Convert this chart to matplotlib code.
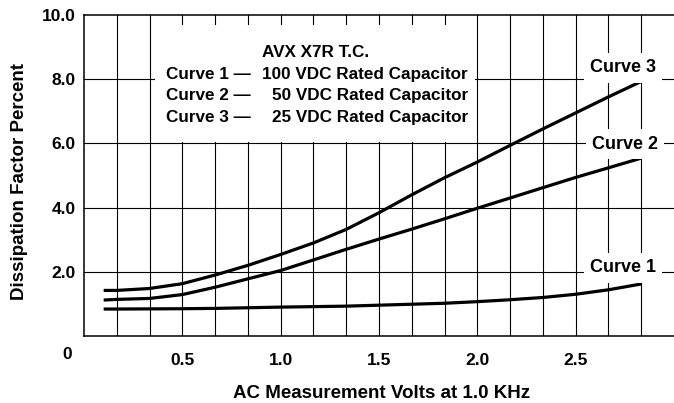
import matplotlib
matplotlib.use("Agg")
import matplotlib.pyplot as plt
from matplotlib.patches import Rectangle
import matplotlib.transforms as mtransforms

plt.rcParams['font.family'] = ['Liberation Sans', 'DejaVu Sans']
plt.rcParams['font.weight'] = 'bold'

# AC measurement voltage (V) at 1.0 kHz
volts = [0.1, 0.167, 0.333, 0.5, 0.667, 0.833, 1.0, 1.167, 1.333, 1.5,
         1.667, 1.833, 2.0, 2.167, 2.333, 2.5, 2.667, 2.833]

# Dissipation factor (%) for each rated voltage
curve1_100vdc = [0.84, 0.84, 0.845, 0.85, 0.86, 0.88, 0.90, 0.915, 0.93, 0.96,
                 0.99, 1.02, 1.07, 1.13, 1.20, 1.30, 1.44, 1.62]
curve2_50vdc = [1.12, 1.14, 1.17, 1.29, 1.52, 1.78, 2.04, 2.37, 2.70, 3.02,
                3.33, 3.65, 3.98, 4.30, 4.62, 4.94, 5.24, 5.54]
curve3_25vdc = [1.42, 1.42, 1.48, 1.63, 1.90, 2.20, 2.54, 2.90, 3.32, 3.84,
                4.40, 4.93, 5.42, 5.94, 6.45, 6.95, 7.45, 7.93]

x_ticks = [0.5, 1.0, 1.5, 2.0, 2.5]
x_tick_labels = ['0.5', '1.0', '1.5', '2.0', '2.5']
y_ticks = [2.0, 4.0, 6.0, 8.0, 10.0]
y_tick_labels = ['2.0', '4.0', '6.0', '8.0', '10.0']
x_grid = [k / 6 for k in range(1, 18)]

W, H = 674, 403
fig = plt.figure(figsize=(W / 100, H / 100), dpi=100)
ax = fig.add_axes([84 / W, (H - 336) / H, (W - 84) / W, (336 - 15) / H])
ax.set_xlim(0, 3.0)
ax.set_ylim(0, 10)

# grid: vertical every 1/6 V, horizontal every 2 %
for xv in x_grid:
    ax.axvline(xv, color='black', lw=0.8, zorder=0.5)
for yv in [2, 4, 6, 8]:
    ax.axhline(yv, color='black', lw=0.8, zorder=0.5)

for side in ['left', 'bottom', 'top']:
    ax.spines[side].set_linewidth(1.1)
ax.spines['right'].set_visible(False)

ax.set_xticks(x_ticks)
ax.set_xticklabels(x_tick_labels)
ax.set_yticks(y_ticks)
ax.set_yticklabels(y_tick_labels)
ax.tick_params(axis='both', length=0, labelsize=12.5)
ax.tick_params(axis='x', pad=12)
ax.tick_params(axis='y', pad=6)

# shared origin label
trans = mtransforms.blended_transform_factory(ax.transData, ax.transAxes)
ax.text(-0.085, -0.059, '0', transform=trans, ha='center', va='center',
        fontsize=12.5, fontweight='bold', clip_on=False)

for ys in (curve1_100vdc, curve2_50vdc, curve3_25vdc):
    ax.plot(volts, ys, color='black', lw=2.3, solid_capstyle='butt',
            solid_joinstyle='round', zorder=2)

# white legend panel
ax.add_patch(Rectangle((0.36, 6.03), 1.63, 3.67, facecolor='white',
                       edgecolor='none', zorder=1))

fs = 12.3
ax.text(1.175, 8.82, 'AVX X7R T.C.', ha='center', va='center',
        fontsize=fs, fontweight='bold', zorder=3)
rows = [('Curve 1 —', '100 VDC Rated Capacitor', 8.14),
        ('Curve 2 —', '50 VDC Rated Capacitor', 7.48),
        ('Curve 3 —', '25 VDC Rated Capacitor', 6.82)]
for left, right, yy in rows:
    ax.text(0.415, yy, left, ha='left', va='center', fontsize=fs,
            fontweight='bold', zorder=3)
    ax.text(1.953, yy, right, ha='right', va='center', fontsize=fs,
            fontweight='bold', zorder=3)

box = dict(boxstyle='square,pad=0.35', facecolor='white', edgecolor='none')
for label, xx, yy in [('Curve 3', 2.74, 8.35), ('Curve 2', 2.75, 5.98),
                      ('Curve 1', 2.74, 2.12)]:
    ax.text(xx, yy, label, ha='center', va='center', fontsize=13,
            fontweight='bold', bbox=box, zorder=3)

fig.text(20 / W, 1 - 181 / H, 'Dissipation Factor Percent', rotation=90,
         ha='center', va='center', fontsize=13.5, fontweight='bold')
fig.text(382 / W, 1 - 393 / H, 'AC Measurement Volts at 1.0 KHz',
         ha='center', va='center', fontsize=13.5, fontweight='bold')

fig.savefig('out.png', dpi=100)
